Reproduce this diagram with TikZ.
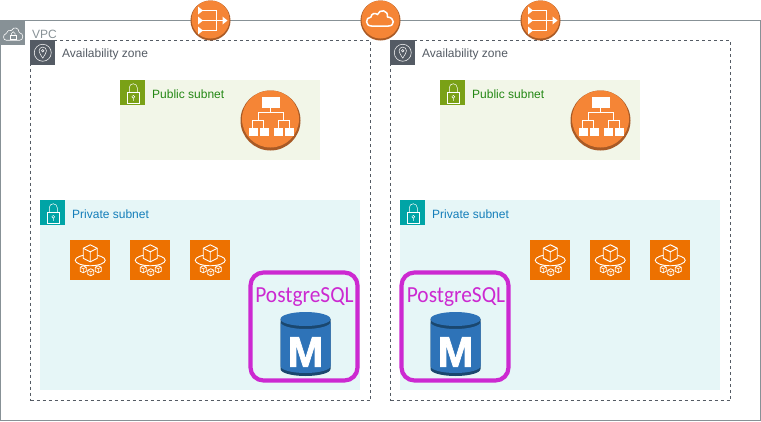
\documentclass[tikz,border=0pt]{standalone}
\usepackage{fontspec}
\setmainfont{Liberation Sans}
\newfontfamily\dbfont{Carlito}
\usepackage{tikz}
\usetikzlibrary{arrows.meta, positioning, calc}
\definecolor{vpcgray}{HTML}{879196}
\definecolor{azgray}{HTML}{545B64}
\definecolor{pubgreen}{HTML}{7AA116}
\definecolor{pubtext}{HTML}{248814}
\definecolor{pubfill}{HTML}{F2F6E8}
\definecolor{privteal}{HTML}{00A4A6}
\definecolor{privtext}{HTML}{147EBA}
\definecolor{privfill}{HTML}{E6F6F7}
\definecolor{awsorange}{HTML}{F58536}
\definecolor{awsshade}{HTML}{A85A26}
\definecolor{eksorange}{HTML}{ED7100}
\definecolor{dbblue}{HTML}{2E73B8}
\definecolor{dbdark}{HTML}{1A476F}
\definecolor{pgmagenta}{HTML}{CC29D1}

\begin{document}
\begin{tikzpicture}[
    x=1pt,y=-1pt,
    >=Latex,
    font=\fontsize{12}{14}\selectfont,
    area/.style={
        anchor=north west, inner sep=0pt, outer sep=0pt
    },
    zonebox/.style={
        area, draw=azgray, dashed, line width=0.8pt,
        minimum width=340pt, minimum height=360pt
    },
    pubbox/.style={
        area, fill=pubfill, minimum width=200pt, minimum height=80pt
    },
    privbox/.style={
        area, fill=privfill, minimum width=320pt, minimum height=190pt
    },
    pgbox/.style={
        area, draw=pgmagenta, line width=4.2pt, rounded corners=13pt,
        minimum width=107pt, minimum height=108pt
    },
    tag/.style={anchor=west, inner sep=0pt},
    pglabel/.style={text=pgmagenta, inner sep=0pt, font=\dbfont\fontsize{23}{23}\selectfont},
    pics/lockbadge/.style={code={
        \fill[#1] (0,0) rectangle (25,25);
        \draw[white, line width=0.5pt] (7,12) rectangle (19,23);
        \draw[white, line width=0.5pt] (9,12) -- (9,7.5) arc[start angle=180, end angle=360, x radius=4, y radius=4] -- (17,12);
        \draw[white, line width=0.5pt] (13,16.5) circle (1.4) (13,18) -- (13,20.5);
    }},
    pics/pinbadge/.style={code={
        \fill[azgray] (0,0) rectangle (25,25);
        \draw[white, line width=0.5pt] (12.5,12.5) circle (8.5);
        \draw[white, line width=0.5pt] (12.5,18) .. controls (10.5,14.5) and (8.8,12.5) .. (8.8,10.5)
            arc[start angle=180, end angle=360, x radius=3.7, y radius=3.7]
            .. controls (16.2,12.5) and (14.5,14.5) .. (12.5,18);
        \draw[white, line width=0.5pt] (12.5,10.5) circle (1.3);
    }},
    pics/cloudbadge/.style={code={
        \fill[vpcgray] (0,0) rectangle (25,25);
        \draw[white, line width=0.6pt, rounded corners=1pt] (7,20)
            .. controls (2.5,20) and (2.5,14) .. (6.5,13.5)
            .. controls (6.5,10.5) and (9.5,9.5) .. (11,11)
            .. controls (13,6) and (19,7.5) .. (18.5,12.5)
            .. controls (23.5,13) and (23.5,20) .. (18.5,20) -- cycle;
        \draw[white, line width=0.5pt] (10,14.5) rectangle (16,18.5);
        \draw[white, line width=0.5pt] (11.2,14.5) -- (11.2,13.2) arc[start angle=180, end angle=360, x radius=1.8, y radius=1.8] -- (14.8,14.5);
    }},
    pics/roundbase/.style={code={
        \fill[awsshade] (0,0) circle (#1);
        \fill[awsorange] (0,{-0.05*#1}) circle ({0.95*#1});
    }},
    pics/natgate/.style={code={
        \pic {roundbase=20};
        \draw[white, line width=1.1pt] (-9,-10) -- (6,-10) -- (6,10) -- (-9,10) (-9,0) -- (12,0);
        \foreach \yy in {-10,0,10}
            \fill[white] (-12.5,\yy-4) -- (-7.5,\yy) -- (-12.5,\yy+4) -- cycle;
        \fill[white] (12,-4) -- (17,0) -- (12,4) -- cycle;
    }},
    pics/netcloud/.style={code={
        \pic {roundbase=20};
        \draw[white, line width=1.5pt] (-9,5.5)
            .. controls (-15.5,5.5) and (-15.5,-3) .. (-9.5,-3.5)
            .. controls (-9.5,-7) and (-5,-8) .. (-3,-6)
            .. controls (-1,-12) and (8,-10.5) .. (7,-3.5)
            .. controls (14.5,-3) and (14.5,5.5) .. (8,5.5) -- cycle;
    }},
    pics/loadbal/.style={code={
        \pic {roundbase=30};
        \fill[white] (-9,-24) rectangle (9,-13);
        \foreach \xx in {-22,-11,3,14}
            \fill[white] (\xx,7) rectangle (\xx+9,15);
        \draw[white, line width=0.9pt] (0,-13) -- (0,-8) (-12,0) -- (-12,-8) -- (13,-8) -- (13,0)
            (-18,7) -- (-18,0) -- (-7,0) -- (-7,7) (8,7) -- (8,0) -- (19,0) -- (19,7);
    }},
    pics/clustericon/.style={code={
        \fill[eksorange] (0,0) rectangle (40,40);
        \draw[white, line width=0.9pt] (20,20) ellipse [x radius=15, y radius=5.5];
        \draw[white, line width=0.9pt, fill=eksorange] (13,8) -- (20,4.5) -- (27,8) -- (27,18) -- (20,21.5) -- (13,18) -- cycle;
        \draw[white, line width=0.9pt] (13,8) -- (20,11.5) -- (27,8) (20,11.5) -- (20,21.5);
        \foreach \xx/\yy in {13/29,20.5/32,28/29}{
            \draw[white, line width=0.7pt, fill=eksorange] (\xx-3,\yy-2) -- (\xx,\yy-3.5) -- (\xx+3,\yy-2) -- (\xx+3,\yy+2) -- (\xx,\yy+3.5) -- (\xx-3,\yy+2) -- cycle;
            \draw[white, line width=0.5pt] (\xx-3,\yy-2) -- (\xx,\yy-0.5) -- (\xx+3,\yy-2) (\xx,\yy-0.5) -- (\xx,\yy+3.5);
        }
    }},
    pics/dbicon/.style={code={
        \fill[dbdark] (-25,7) -- (-25,57) arc[start angle=180, end angle=360, x radius=25, y radius=-7] -- (25,7) -- cycle;
        \fill[dbblue] (-25,10) -- (-25,54) arc[start angle=180, end angle=360, x radius=25, y radius=-7] -- (25,10)
            arc[start angle=360, end angle=180, x radius=25, y radius=-7] -- cycle;
        \fill[dbblue] (0,7) ellipse [x radius=25, y radius=7];
        \node[text=white, inner sep=0pt, font=\fontsize{43}{43}\selectfont\bfseries\addfontfeatures{FakeBold=1.6}] (mark) at (0,40) {M};
    }}
]

% --- Outer VPC ---
\node[area, draw=vpcgray, line width=0.8pt, minimum width=760pt, minimum height=400pt] (vpc) at (0.5,20.5) {};
\pic at (0.25,20.25) {cloudbadge};
\node[tag, text=vpcgray] (vpclabel) at (32,34) {VPC};

% --- Availability zones ---
\node[zonebox] (azleft) at (30.5,40.5) {};
\node[zonebox] (azright) at (390.5,40.5) {};
\pic at (30.25,40.25) {pinbadge};
\pic at (390.25,40.25) {pinbadge};
\node[tag, text=azgray] (azleftlabel) at (62,54) {Availability zone};
\node[tag, text=azgray] (azrightlabel) at (422,54) {Availability zone};

% --- Public subnets ---
\node[pubbox] (publeft) at (120.25,80.25) {};
\node[pubbox] (pubright) at (440.25,80.25) {};
\pic at (120.25,80.25) {lockbadge=pubgreen};
\pic at (440.25,80.25) {lockbadge=pubgreen};
\node[tag, text=pubtext] (publeftlabel) at (152,94) {Public subnet};
\node[tag, text=pubtext] (pubrightlabel) at (472,94) {Public subnet};
\pic at (270.5,120.5) {loadbal};
\pic at (600.5,120.5) {loadbal};

% --- Private subnets ---
\node[privbox] (privleft) at (40.25,200.25) {};
\node[privbox] (privright) at (400.25,200.25) {};
\pic at (40.25,200.25) {lockbadge=privteal};
\pic at (400.25,200.25) {lockbadge=privteal};
\node[tag, text=privtext] (privleftlabel) at (72,214) {Private subnet};
\node[tag, text=privtext] (privrightlabel) at (432,214) {Private subnet};
\foreach \xx in {70,130,190,530,590,650}
    \pic at (\xx+0.25,240.25) {clustericon};

% --- Gateways on the VPC edge ---
\pic at (210.5,20.5) {natgate};
\pic at (380.5,20.5) {netcloud};
\pic at (540.5,20.5) {natgate};

% --- PostgreSQL ---
\node[pgbox] (pgleft) at (250.5,272.5) {};
\node[pgbox] (pgright) at (401.5,272.5) {};
\node[pglabel] (pgleftlabel) at (304.5,297) {\scalebox{0.93}[1]{PostgreSQL}};
\node[pglabel] (pgrightlabel) at (456,297) {\scalebox{0.93}[1]{PostgreSQL}};
\pic (dbleft) at (305.5,312) {dbicon};
\pic (dbright) at (455.5,312) {dbicon};

\useasboundingbox (0,0) rectangle (761,421);
\end{tikzpicture}
\end{document}
